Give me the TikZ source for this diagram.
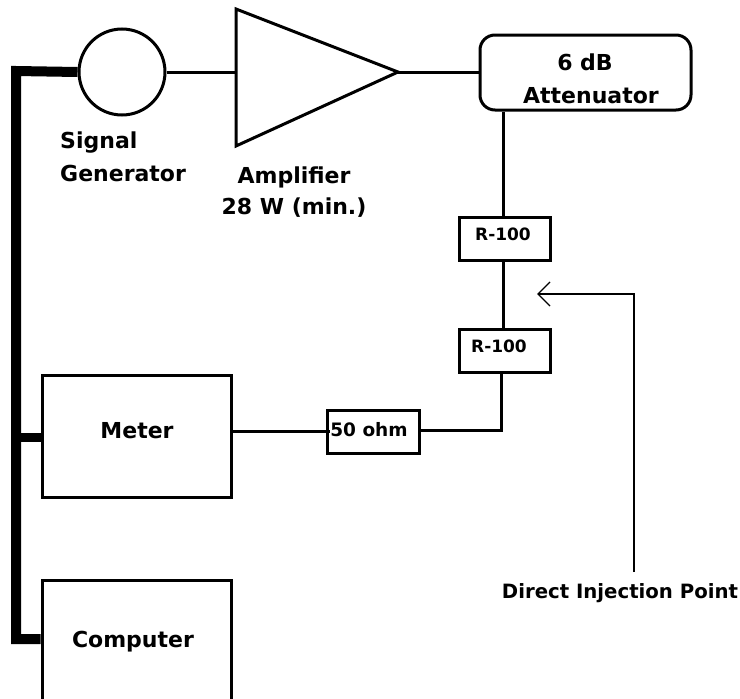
\documentclass[tikz,border=0pt]{standalone}
\usepackage{fontspec}
\setmainfont{DejaVu Sans}[BoldFont={DejaVu Sans Bold}]
\tikzset{
  box/.style={draw=black,line width=3pt,fill=white,inner sep=0pt,rectangle,font=\fontsize{22}{25}\selectfont\bfseries},
  small/.style={box,minimum width=91pt,minimum height=43pt,font=\fontsize{17}{20}\selectfont\bfseries},
  big/.style={box,minimum width=189pt},
  wire/.style={line width=3pt,line cap=butt},
  bus/.style={line width=10pt,line join=miter},
  lab/.style={inner sep=0pt,font=\fontsize{22}{25}\selectfont\bfseries,text=black,anchor=base},
}
\begin{document}
\begin{tikzpicture}[x=1pt,y=-1pt]
\useasboundingbox (0,0) rectangle (740,699);
\clip (0,0) rectangle (740,699);
% bus
\coordinate (bustop) at (16,71);
\coordinate (busbot) at (16,639);
\node[big,minimum height=122pt] (meter) at (136.5,436) {};
\node[big,minimum height=130pt] (computer) at (136.5,645) {};
\node[draw,circle,line width=3pt,minimum size=86pt,inner sep=0pt] (gen) at (122,72) {};
\draw[bus] (gen.west) -- (bustop) -- (busbot) -- (computer.west |- busbot);
\draw[bus,line width=9pt] (bustop |- 0,437) -- (meter.west |- 0,437);
% amplifier
\coordinate (ampA) at (236,9);
\coordinate (ampB) at (236,146);
\coordinate (ampC) at (398,72);
\draw[line width=3pt,line join=miter] (ampA) -- (ampC) -- (ampB) -- cycle;
\draw[wire] (gen.east) -- (ampA |- gen.east);
% attenuator and chain
\node[box,rounded corners=15pt,minimum width=211pt,minimum height=75pt] (att) at (585.5,72.5) {};
\node[small] (r1) at (504.5,238.5) {};
\node[small] (r2) at (504.5,350.5) {};
\node[box,minimum width=92pt,minimum height=43pt] (ohm) at (373,431.5) {};
\coordinate (bend) at (501,430);
\draw[wire] (ampC) -- (att.west |- ampC);
\draw[wire] (att.south -| 503,0) -- (r1.north -| 503,0);
\draw[wire] (r1.south -| 503,0) -- (r2.north -| 503,0);
\draw[wire] (r2.south -| bend) -- (bend) -- (ohm.east |- bend);
\draw[wire] (meter.east |- 0,431) -- ([xshift=4pt]ohm.west |- 0,431);
% arrow
\coordinate (tip) at (538,294);
\coordinate (corner) at (634,294);
\coordinate (tail) at (634,572);
\draw[line width=1.2pt] (tail) -- (corner) -- (tip);
\draw[line width=1.2pt] (550,282) -- (tip) -- (550,306);
% labels
\node[lab,anchor=base west] (siga) at (60,148) {Signal};
\node[lab,anchor=base west] (sigb) at (60,181) {Generator};
\node[lab] (ampa) at (294,183) {Amplifier};
\node[lab] (ampb) at (294,214) {28 W (min.)};
\node[lab] (atta) at (585,70) {6 dB};
\node[lab] (attb) at (591,103) {Attenuator};
\node[lab,font=\fontsize{17}{20}\selectfont\bfseries] (ra) at (503,240) {R-100};
\node[lab,font=\fontsize{17}{20}\selectfont\bfseries] (rb) at (499,352) {R-100};
\node[lab,font=\fontsize{18.5}{22}\selectfont\bfseries] (oa) at (369,436) {50 ohm};
\node[lab] (ma) at (137,438) {Meter};
\node[lab] (ca) at (133,647) {Computer};
\node[lab,font=\fontsize{19.7}{24}\selectfont\bfseries] (di) at (620,598) {Direct Injection Point};
\end{tikzpicture}
\end{document}
